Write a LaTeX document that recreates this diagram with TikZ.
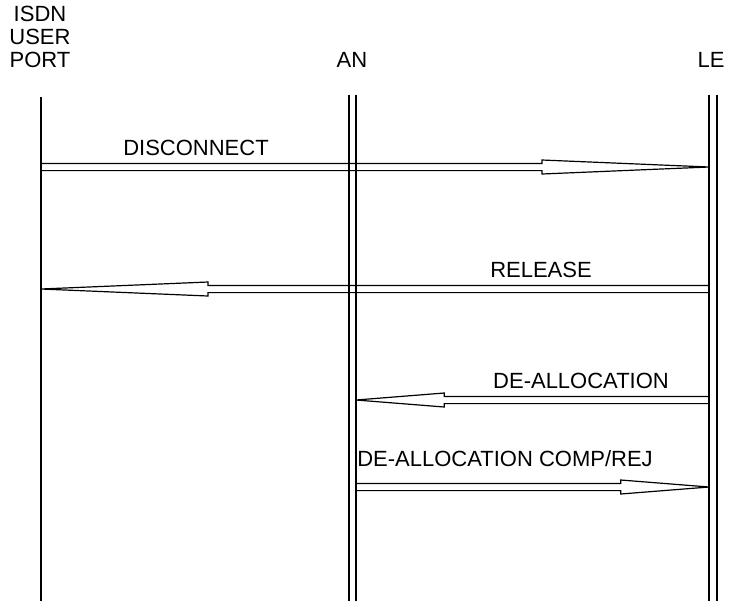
\documentclass[tikz,border=0pt]{standalone}
\usepackage{fontspec}
\setmainfont{Liberation Sans}
\usetikzlibrary{calc}
\tikzset{
 every node/.style={font=\fontsize{11}{11.5}\selectfont,inner sep=0pt},
 life/.style={line width=.6pt},
 lbl/.style={anchor=base},
 msg/.style={line width=.6pt,to path={
  ($(\tikztostart)+(0,3.6)$) -- ($($(\tikztotarget)!.25!(\tikztostart)$)+(0,3.6)$)
  -- ($($(\tikztotarget)!.25!(\tikztostart)$)+(0,7)$) -- (\tikztotarget)
  -- ($($(\tikztotarget)!.25!(\tikztostart)$)+(0,-7)$)
  -- ($($(\tikztotarget)!.25!(\tikztostart)$)+(0,-3.6)$) -- ($(\tikztostart)+(0,-3.6)$)}},
 }

\begin{document}
\begin{tikzpicture}[x=.5pt,y=-.5pt]
 \useasboundingbox (0,0) rectangle (733,601);
 % lifelines
 \node[align=center,anchor=north] (port) at (40,6) {ISDN\\USER\\PORT};
 \node[lbl] (an) at (352,67) {AN};
 \node[lbl] (le) at (711,67) {LE};
 \foreach \x/\t in {41/97,349/95,356/95,709/95,717/95}
  \draw[life] (\x,\t) -- (\x,601);
 % messages
 \coordinate (disc0) at (41,167);  \coordinate (disc1) at (709,167);
 \coordinate (rel0) at (709,289);  \coordinate (rel1) at (41,289);
 \coordinate (deal0) at (709,400); \coordinate (deal1) at (356,400);
 \coordinate (comp0) at (356,487); \coordinate (comp1) at (709,487);
 \draw[msg] (disc0) to (disc1);
 \draw[msg] (rel0) to (rel1);
 \draw[msg] (deal0) to (deal1);
 \draw[msg] (comp0) to (comp1);
 \node[lbl] (discl) at (196,155) {DISCONNECT};
 \node[lbl] (rell) at (541,277) {RELEASE};
 \node[lbl] (deall) at (581,388) {DE-ALLOCATION};
 \node[lbl] (compl) at (505,466) {DE-ALLOCATION COMP/REJ};
\end{tikzpicture}
\end{document}
